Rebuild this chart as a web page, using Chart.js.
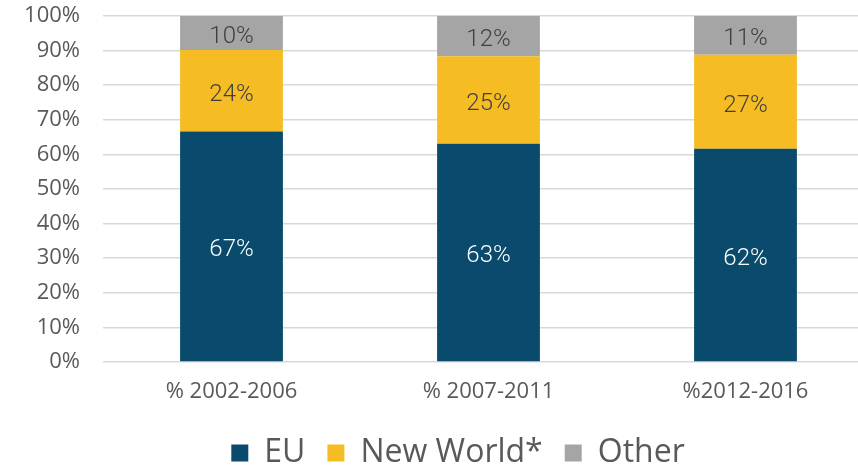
<!DOCTYPE html>
<html>
<head>
<meta charset="utf-8">
<script src="https://cdn.jsdelivr.net/npm/chart.js@4/dist/chart.umd.min.js"></script>
<style>
  html, body { margin: 0; padding: 0; background: #fff; overflow: hidden; }
  .wrap { width: 874px; height: 465px; }
</style>
</head>
<body>
<div class="wrap"><canvas id="myChart"></canvas></div>
<script>
const periods = ["% 2002-2006", "% 2007-2011", "%2012-2016"];
const euShare = [66.6, 63.1, 61.6];
const newWorldShare = [23.6, 25.3, 27.2];
const otherShare = [9.8, 11.6, 11.2];
const yTicks = [0, 10, 20, 30, 40, 50, 60, 70, 80, 90, 100];

const tickFont = "'Open Sans', 'DejaVu Sans', sans-serif";
const labelFont = "'Roboto', sans-serif";

// writes the rounded share in the middle of every segment
const segmentLabels = {
  id: "segmentLabels",
  afterDatasetsDraw(chart) {
    const ctx = chart.ctx;
    ctx.save();
    ctx.font = "300 24px " + labelFont;
    ctx.textAlign = "center";
    ctx.textBaseline = "middle";
    chart.data.datasets.forEach((ds, i) => {
      const meta = chart.getDatasetMeta(i);
      meta.data.forEach((bar, j) => {
        ctx.fillStyle = i === 0 ? "#ffffff" : "#404040";
        const y = (bar.y + bar.base) / 2;
        ctx.fillText(Math.round(ds.data[j]) + "%", bar.x, y + 4);
      });
    });
    ctx.restore();
  }
};

// legend sits a little right of the canvas centre in the original
const legendShift = {
  id: "legendShift",
  afterLayout(chart) {
    chart.legend.left += 42;
  }
};

const ctx = document.getElementById("myChart").getContext("2d");
const myChart = new Chart(ctx, {
  type: "bar",
  data: {
    labels: periods,
    datasets: [
      { label: "EU", data: euShare, backgroundColor: "#0a4a6c" },
      { label: "New World*", data: newWorldShare, backgroundColor: "#f5bc24" },
      { label: "Other", data: otherShare, backgroundColor: "#a5a5a5" }
    ]
  },
  options: {
    responsive: true,
    maintainAspectRatio: false,
    animation: false,
    layout: { padding: { top: 16, right: 0, bottom: -14, left: 0 } },
    datasets: {
      bar: { barPercentage: 0.8, categoryPercentage: 0.5, borderWidth: 0 }
    },
    scales: {
      x: {
        stacked: true,
        grid: { display: false, drawTicks: false },
        border: { display: false },
        ticks: { color: "#595959", font: { family: tickFont, size: 22 }, padding: 17 },
        afterFit(scale) { scale.height = 53; }
      },
      y: {
        stacked: true,
        min: 0,
        max: 100,
        afterBuildTicks(scale) { scale.ticks = yTicks.map(v => ({ value: v })); },
        grid: { color: "#d9d9d9", lineWidth: 1.5, drawTicks: false },
        border: { display: false },
        ticks: {
          color: "#595959",
          font: { family: tickFont, size: 22 },
          padding: 23,
          callback: v => v + "%"
        },
        afterFit(scale) {
          scale.width = 103;
          scale.paddingTop = 0;
          scale.paddingBottom = 0;
        }
      }
    },
    plugins: {
      legend: {
        position: "bottom",
        labels: {
          color: "#595959",
          font: { family: tickFont, size: 32 },
          boxWidth: 17,
          boxHeight: 17,
          padding: 22
        }
      },
      tooltip: { enabled: false }
    }
  },
  plugins: [segmentLabels, legendShift]
});
</script>
</body>
</html>
